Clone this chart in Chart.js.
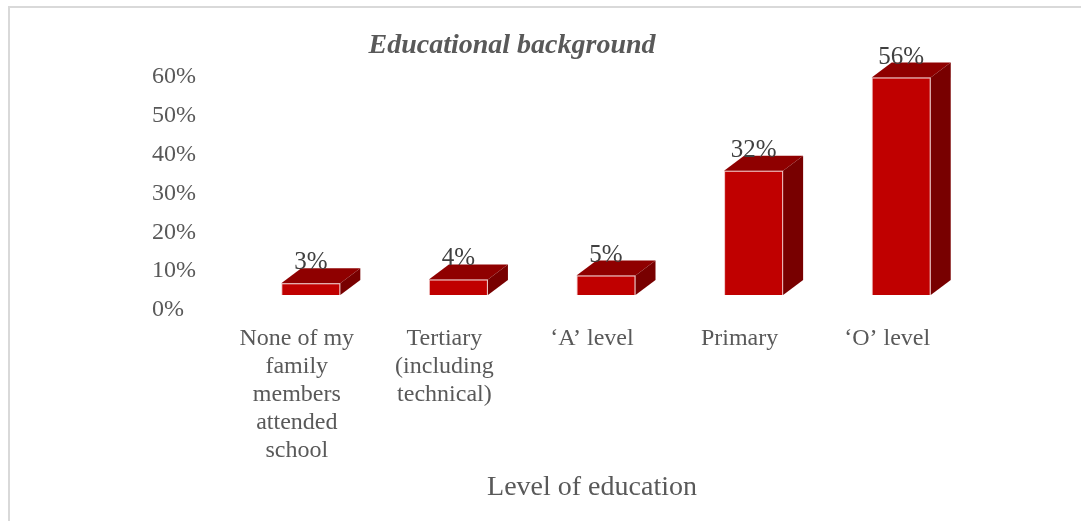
<!DOCTYPE html>
<html>
<head>
<meta charset="utf-8">
<script src="https://cdn.jsdelivr.net/npm/chart.js@4"></script>
<style>
  html, body { margin: 0; padding: 0; background: #fff; }
  #wrap { position: relative; width: 1081px; height: 521px; }
  #frame {
    position: absolute; left: 8px; top: 6px; right: 0; bottom: 0;
    border-top: 2px solid #d9d9d9; border-left: 2px solid #d9d9d9;
    pointer-events: none;
  }
  canvas { position: absolute; left: 0; top: 0; }
</style>
</head>
<body>
<div id="wrap">
  <canvas id="myChart" width="1081" height="521"></canvas>
  <div id="frame"></div>
</div>
<script>
/* ---- data ---- */
const chartTitle = 'Educational background';
const axisTitle = 'Level of education';
const categories = [
    ['None of my', 'family', 'members', 'attended', 'school'],
    ['Tertiary', '(including', 'technical)'],
    '\u2018A\u2019 level',
    'Primary',
    '\u2018O\u2019 level'
];
const shares = [3, 4, 5, 32, 56];
const yTicks = [0, 10, 20, 30, 40, 50, 60];

/* ---- look of the boxes ---- */
const FONT = '"Liberation Serif", "Times New Roman", serif';
const shift = { x: 14, y: -15 };   // front face vs. axis
const depth = { x: 20, y: -15 };   // back face vs. front face
const frontColor = '#c00000';
const topColor = '#8f0000';
const sideColor = '#780000';

const boxes3d = {
    id: 'boxes3d',
    beforeDatasetsDraw(chart) {
        const ctx = chart.ctx;
        ctx.save();
        ctx.translate(shift.x, shift.y);
        chart.getDatasetMeta(0).data.forEach(bar => {
            const left = bar.x - bar.width / 2;
            const right = bar.x + bar.width / 2;
            const top = bar.y;
            const bottom = bar.base;
            // top face
            ctx.fillStyle = topColor;
            ctx.beginPath();
            ctx.moveTo(left, top);
            ctx.lineTo(right, top);
            ctx.lineTo(right + depth.x, top + depth.y);
            ctx.lineTo(left + depth.x, top + depth.y);
            ctx.closePath();
            ctx.fill();
            // side face
            ctx.fillStyle = sideColor;
            ctx.beginPath();
            ctx.moveTo(right, top);
            ctx.lineTo(right + depth.x, top + depth.y);
            ctx.lineTo(right + depth.x, bottom + depth.y);
            ctx.lineTo(right, bottom);
            ctx.closePath();
            ctx.fill();
        });
    },
    afterDatasetsDraw(chart) {
        const ctx = chart.ctx;
        ctx.restore();
        // value labels sitting on the back edge of each box
        ctx.save();
        ctx.font = '25px ' + FONT;
        ctx.fillStyle = '#404040';
        ctx.textAlign = 'center';
        ctx.textBaseline = 'alphabetic';
        chart.getDatasetMeta(0).data.forEach((bar, i) => {
            const x = bar.x + shift.x;
            const y = bar.y + shift.y + depth.y + 1;
            ctx.fillText(shares[i] + '%', x, y);
        });
        ctx.restore();
    },
    afterDraw(chart) {
        const ctx = chart.ctx;
        ctx.save();
        ctx.font = 'italic bold 28px ' + FONT;
        ctx.fillStyle = '#595959';
        ctx.textAlign = 'center';
        ctx.textBaseline = 'middle';
        ctx.fillText(chartTitle, 512, 46);
        ctx.restore();
    }
};

const ctx = document.getElementById('myChart').getContext('2d');

const data = {
    labels: categories,
    datasets: [{
        label: 'Share',
        data: shares,
        backgroundColor: frontColor,
        borderColor: 'rgba(220, 120, 120, 0.45)',
        borderWidth: 1,
        barPercentage: 0.4,
        categoryPercentage: 1
    }]
};

const config = {
    type: 'bar',
    data: data,
    options: {
        responsive: false,
        animation: false,
        layout: { padding: { left: 152, right: 120, top: 77, bottom: 0 } },
        plugins: {
            legend: { display: false },
            tooltip: { enabled: false },
            title: { display: false }
        },
        scales: {
            x: {
                grid: { display: false },
                border: { display: false },
                ticks: {
                    color: '#595959',
                    font: { family: FONT, size: 24, lineHeight: 1.167 },
                    padding: 7,
                    maxRotation: 0,
                    autoSkip: false
                },
                title: {
                    display: true,
                    text: axisTitle,
                    color: '#595959',
                    font: { family: FONT, size: 28 },
                    padding: { top: 4, bottom: 17 }
                },
                afterFit(scale) { scale.height = 211; }
            },
            y: {
                min: 0,
                max: 60,
                grid: { display: false },
                border: { display: false },
                afterBuildTicks(scale) {
                    scale.ticks = yTicks.map(v => ({ value: v }));
                },
                ticks: {
                    color: '#595959',
                    font: { family: FONT, size: 24 },
                    crossAlign: 'far',
                    callback: v => v + '%'
                },
                afterFit(scale) { scale.width = 71; }
            }
        }
    },
    plugins: [boxes3d]
};

const myChart = new Chart(ctx, config);
</script>
</body>
</html>
